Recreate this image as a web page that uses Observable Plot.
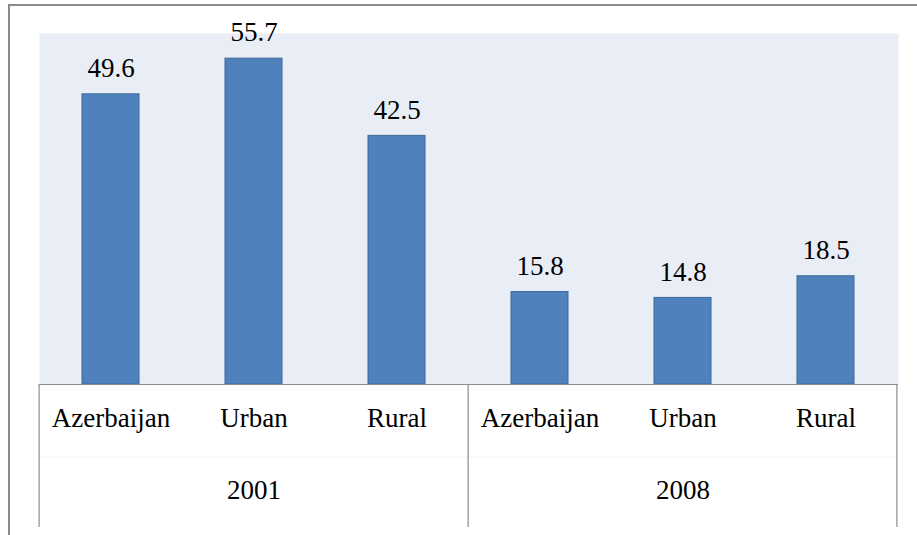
<!DOCTYPE html>
<html>
<head>
<meta charset="utf-8">
<script src="https://cdn.jsdelivr.net/npm/d3@7"></script>
<script src="https://cdn.jsdelivr.net/npm/@observablehq/plot@0.6"></script>
</head>
<body style="margin:0">
<script>
const years = ["2001", "2008"];
const categories = ["Azerbaijan", "Urban", "Rural"];
const values2001 = [49.6, 55.7, 42.5];
const values2008 = [15.8, 14.8, 18.5];

const seriesByYear = [values2001, values2008];
const data = years.flatMap((yr, i) =>
  categories.map((c, j) => ({ key: yr + "|" + c, year: yr, cat: c, value: seriesByYear[i][j] }))
);

const serifFont = "Tinos";

const plot = Plot.plot({
  width: 917,
  height: 535,
  marginTop: 33,
  marginBottom: 151,
  marginLeft: 39,
  marginRight: 19,
  x: { domain: data.map(d => d.key), paddingInner: 0.6, paddingOuter: 0.3, axis: null },
  y: { domain: [0, 60], axis: null },
  marks: [
    Plot.frame({ fill: "#E9EDF5", stroke: null }),
    Plot.barY(data, { x: "key", y: "value", fill: "#4F81BD", stroke: "#3D6899", strokeWidth: 1 }),
    Plot.ruleY([0], { stroke: "#8C8C8C", strokeWidth: 1.2 }),
    Plot.text(data, { x: "key", y: "value", text: d => d.value.toFixed(1), dy: -26, fontSize: 27, fontFamily: serifFont, fill: "black" }),
    Plot.text(data, { x: "key", text: "cat", frameAnchor: "bottom", dy: 42, fontSize: 27, fontFamily: serifFont, fill: "black" }),
    Plot.text(years, { x: d => d + "|Urban", text: d => d, frameAnchor: "bottom", dy: 114, fontSize: 27, fontFamily: serifFont, fill: "black" })
  ]
});

document.body.appendChild(plot);

const svg = d3.select(plot);
svg.selectAll("text").style("font-family", "Tinos, 'Liberation Serif', serif");

// group separators in the axis area, positioned from the plot's own scales
const xs = plot.scale("x");
const ys = plot.scale("y");
const base = ys.apply(0);
const bounds = [
  xs.apply(years[0] + "|" + categories[0]) - xs.step * 0.3,
  xs.apply(years[1] + "|" + categories[0]) - xs.step * 0.3,
  xs.apply(years[1] + "|" + categories[2]) + xs.bandwidth + xs.step * 0.3
];
const g = svg.append("g");
g.append("line")
  .attr("x1", bounds[0]).attr("x2", bounds[2])
  .attr("y1", base + 73).attr("y2", base + 73)
  .attr("stroke", "#f3f3f3").attr("stroke-width", 1);
bounds.forEach(x => {
  g.append("line")
    .attr("x1", x).attr("x2", x)
    .attr("y1", base).attr("y2", base + 143)
    .attr("stroke", "#8C8C8C").attr("stroke-width", 1.2);
});
// outer chart border
svg.append("path")
  .attr("d", "M9,545 V5 H925")
  .attr("fill", "none")
  .attr("stroke", "#8A8A8A")
  .attr("stroke-width", 2);
</script>
</body>
</html>
